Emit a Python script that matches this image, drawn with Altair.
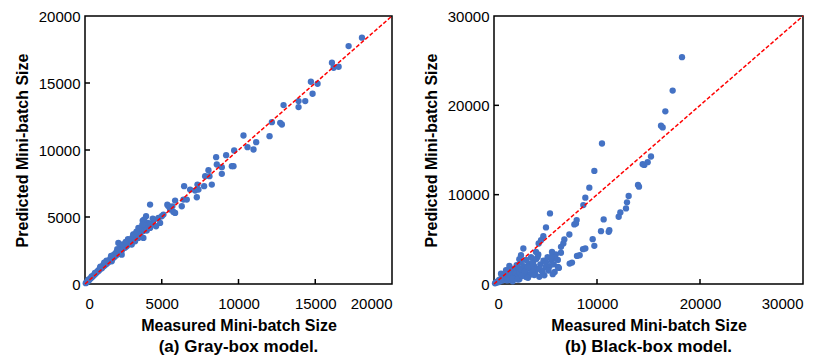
import altair as alt
import pandas as pd

# ---- Gray-box model (left) ----
gray_measured = [
    50, 100, 150, 200, 250, 300, 350, 400, 450, 500, 550, 600, 650, 700, 750, 800, 850, 900, 950, 1000,
    1050, 1100, 1150, 1200, 1250, 1300, 1350, 1400, 1450, 1500, 1550, 1600, 1650, 1700, 1750, 1800,
    1850, 1900, 1950, 2000, 2050, 2100, 2150, 2200, 2300, 2400, 2500, 2600, 2700, 2800, 2900, 3000,
    3100, 3200, 3300, 3400, 3500, 3600, 3700, 3800, 3900, 4000, 4100, 4300, 4500,
    217, 435, 652, 978, 1196, 1739, 1848, 2391, 2174, 2500, 2717, 3043, 3152, 3261, 3478, 3804,
    4022, 4239, 4413, 3478, 3761, 3978, 4239, 4630, 4891, 4783, 5000, 5109, 5543, 5870, 5761, 5435,
    6304, 5870, 6413, 6630, 7283, 6848, 6457, 7391, 7174, 7761, 7326, 8261, 8109, 7826, 8043, 8913,
    9674, 9565, 8913, 8587, 8543, 9196, 9717, 10978, 11152, 10587, 10326, 12022, 12826, 12717, 12174,
    14348, 13913, 13913, 12935, 14826, 15152, 14717, 16522, 16196, 16087, 17174, 18043,
    5363, 5690, 3844, 3734,
    1400, 1700, 2100, 2450, 2800, 3150, 1000, 1250, 2650, 3350,
]
gray_predicted = [
    60, 110, 180, 230, 280, 340, 420, 450, 520, 560, 640, 680, 760, 780, 870, 900, 1000, 980, 1100, 1120,
    1250, 1180, 1320, 1300, 1450, 1390, 1550, 1500, 1650, 1600, 1750, 1700, 1900, 1800, 2050, 1900,
    2150, 2000, 2250, 2100, 2400, 2200, 2500, 2350, 2650, 2500, 2850, 2700, 3100, 2950, 3300, 3150,
    3500, 3400, 3700, 3550, 3900, 3750, 4150, 3950, 4400, 4200, 4550, 4500, 4800,
    324, 573, 822, 1196, 1445, 1694, 2067, 2192, 3064, 2690, 2814, 2939, 3686, 3188, 3437, 3437,
    3985, 4184, 4882, 4184, 4732, 5056, 5928, 4308, 4558, 4932, 5056, 5180, 5554, 5305, 5380, 5803,
    5803, 6227, 6301, 6301, 6476, 7049, 7298, 7049, 6974, 7298, 7422, 7422, 8045, 8045, 8493, 8219,
    8792, 8792, 8717, 8917, 9465, 9614, 9963, 10037, 10585, 10212, 11083, 11034, 11905, 12030, 12080,
    13649, 13200, 13649, 13350, 14197, 14944, 15093, 16214, 16139, 16513, 17758, 18381,
    5920, 5796, 4801, 4428,
    1750, 2100, 2600, 2950, 3350, 3700, 1300, 1600, 3150, 3900,
]

# ---- Black-box model (right) ----
black_measured = [
    100, 200, 300, 400, 500, 600, 700, 800, 900, 1000, 1100, 1200, 1300, 1400, 1500, 1600, 1700, 1800,
    1900, 2000, 2100, 2200, 2300, 2400, 2500, 2600, 2700, 2800, 2900, 3000, 3100, 3200, 3300, 3400,
    3500, 3600, 3700, 3800, 3900, 4000, 4100, 4200, 4300, 4500, 4600, 4800, 5000, 5200, 5400, 5600,
    5800, 6000, 6200, 6500,
    18252, 17346, 16634, 16214, 16375, 10485, 15243, 14919, 14595, 14434, 9741, 13981, 14078, 9256,
    8867, 8673, 13074, 12913, 12816, 12265, 12104, 8026, 7799, 7961, 10647, 11197, 11133, 10388,
    5437, 5049, 4790, 4563, 4337, 6828, 6731, 6505, 7314, 9579, 9741, 8867, 8641, 8317, 8058, 7573,
    7346, 6213, 5890, 5631, 5890, 5566, 5049, 4887, 4078, 4240, 2848, 2621, 2459, 1489, 1165, 680,
    4401, 4725, 3754, 3430, 3107, 2459, 1812, 3754, 3269, 2945,
    1300, 1800, 2300, 2700, 3300, 3900, 4400, 5300, 5700, 6300,
]
black_predicted = [
    80, 150, 250, 200, 450, 300, 600, 400, 850, 500, 1000, 700, 1200, 600, 1400, 900, 1100, 1700,
    800, 1500, 1200, 2100, 900, 1800, 1300, 2400, 1600, 1000, 2000, 1400, 2700, 1700, 1100, 2300,
    1900, 3000, 1500, 2500, 2000, 1200, 2800, 1700, 3300, 2200, 1500, 2600, 1900, 3000, 2000, 2600,
    2200, 3300, 2700, 3500,
    25393, 21648, 19326, 17715, 17528, 15730, 14270, 13633, 13333, 13408, 12659, 11086, 10899, 10787,
    9663, 8839, 9850, 9139, 8464, 8015, 7528, 7154, 6667, 6779, 7228, 6030, 5843, 5918,
    7903, 6330, 5356, 4906, 4532, 4981, 4532, 4157, 5543, 5019, 4270, 3970, 3895, 3221, 3146, 2397,
    2285, 1910, 1348, 3596, 2921, 3034, 2472, 974, 3596, 3034, 3970, 3221, 2772, 2022, 1536, 1161,
    1723, 1348, 1348, 974, 787, 524, 300, 2285, 1910, 1348,
    400, 600, 500, 900, 700, 1000, 800, 1500, 1100, 1800,
]

gray_ticks = [0, 5000, 10000, 15000, 20000]
black_ticks = [0, 10000, 20000, 30000]

H = 268
FONT = "Liberation Sans"


def panel(xs, ys, ticks, caption, width):
    maxv = ticks[-1]
    pts = pd.DataFrame({"x": xs, "y": ys})
    diag = pd.DataFrame({"x": [ticks[0], maxv], "y": [ticks[0], maxv]})
    inner = pd.DataFrame({"x": ticks[1:-1], "y": ticks[1:-1]})
    sc = alt.Scale(domain=[0, maxv], nice=False, zero=True)
    xaxis = alt.Axis(values=ticks, tickSize=0, labelPadding=12, format="d",
                     title="Measured Mini-batch Size", titlePadding=6, grid=False)
    yaxis = alt.Axis(values=ticks, tickSize=0, labelPadding=5, format="d",
                     title="Predicted Mini-batch Size", titlePadding=8, grid=False)
    points = alt.Chart(pts).mark_circle(size=40, color="#4472C4", opacity=1).encode(
        x=alt.X("x:Q", scale=sc, axis=xaxis),
        y=alt.Y("y:Q", scale=sc, axis=yaxis),
    )
    line = alt.Chart(diag).mark_line(color="#FF0000", strokeDash=[4, 2], strokeWidth=1.5).encode(
        x="x:Q", y="y:Q"
    )
    xt = alt.Chart(inner).mark_rule(color="black", strokeWidth=1.5).encode(
        x="x:Q", y=alt.value(H), y2=alt.value(H - 5)
    )
    yt = alt.Chart(inner).mark_rule(color="black", strokeWidth=1.5).encode(
        y="y:Q", x=alt.value(0), x2=alt.value(5)
    )
    return alt.layer(points, line, xt, yt).properties(
        width=width, height=H,
        title=alt.TitleParams(caption, orient="bottom", anchor="middle", frame="group",
                              fontSize=17, fontWeight="bold", font=FONT, color="black", offset=6),
    )


left = panel(gray_measured, gray_predicted, gray_ticks, "(a) Gray-box model.", 307)
right = panel(black_measured, black_predicted, black_ticks, "(b) Black-box model.", 309)

chart = alt.hconcat(left, right, spacing=26).properties(
    padding={"left": 5, "top": 0, "right": 0, "bottom": 0}
).configure_view(
    stroke="black", strokeWidth=1.5
).configure_axis(
    domain=False, labelFont=FONT, labelFontSize=15, labelColor="black",
    titleFont=FONT, titleFontSize=16, titleFontWeight="bold", titleColor="black",
)

chart.save("out.html", embed_options={"renderer": "svg", "actions": False})
